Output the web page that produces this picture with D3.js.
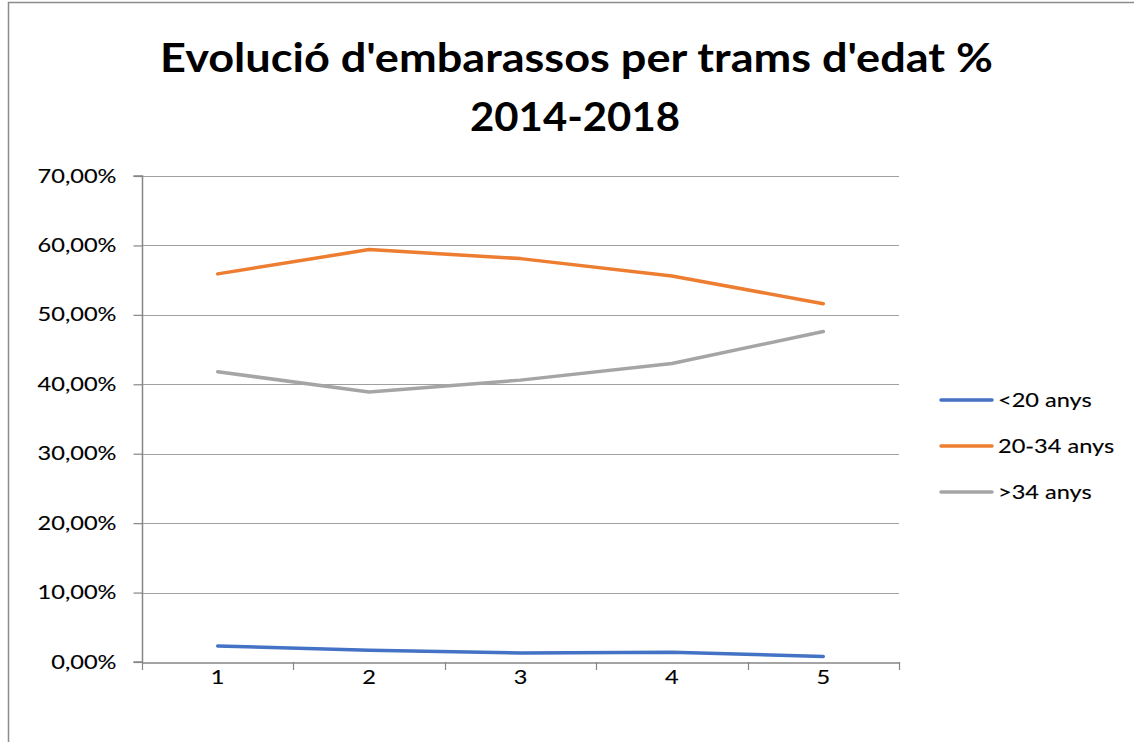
<!DOCTYPE html>
<html><head><meta charset="utf-8">
<script src="https://cdn.jsdelivr.net/npm/d3@7"></script>
<style>body{margin:0;background:#fff}svg{display:block}</style>
</head><body>
<svg id="c" width="1134" height="742"></svg>
<script>
const categories = ["1","2","3","4","5"];
const seriesNames = ["<20 anys","20-34 anys",">34 anys"];
const under20 = [0.023, 0.017, 0.013, 0.014, 0.008];
const age20to34 = [0.559, 0.594, 0.581, 0.556, 0.516];
const over34 = [0.418, 0.389, 0.406, 0.430, 0.476];
const yTicks = [0,0.1,0.2,0.3,0.4,0.5,0.6,0.7];
const colors = ["#4472C4","#ED7D31","#A5A5A5"];
const series = [under20, age20to34, over34];

const svg = d3.select("#c");
const font = "Lato, 'Open Sans', sans-serif";
const stretch = (sel, f) => sel.each(function(){
  const w = this.getComputedTextLength();
  d3.select(this).attr("textLength", w*f).attr("lengthAdjust","spacingAndGlyphs")
    .attr("stroke","#000").attr("stroke-width",0.12);
});
svg.append("rect").attr("x",8.5).attr("y",2.5).attr("width",1140).attr("height",760)
  .attr("fill","#fff").attr("stroke","#8c8c8c").attr("stroke-width",1.5);

const L=142,R=899,T=176,B=662;
const x = d3.scaleBand().domain(categories).range([L,R]);
const y = d3.scaleLinear().domain([0,0.7]).range([B,T]);

// gridlines
svg.append("g").selectAll("line").data(yTicks.slice(1)).join("line")
  .attr("x1",L).attr("x2",R).attr("y1",d=>Math.round(y(d))+0.5).attr("y2",d=>Math.round(y(d))+0.5)
  .attr("stroke","#a0a0a0").attr("stroke-width",1.2);

// y axis
const fmt = d => d3.format(".2f")(d*100).replace(".",",")+"%";
const ya = svg.append("g").attr("transform",`translate(${L+0.5},0)`)
  .call(d3.axisLeft(y).tickValues(yTicks).tickFormat(fmt).tickSize(9).tickPadding(17));
ya.select(".domain").attr("stroke","#868686").attr("stroke-width",1.5).attr("d",`M-9,${B}H0V${T}H-9`);
ya.selectAll(".tick line").attr("stroke","#868686").attr("stroke-width",1.2);
ya.selectAll("text").attr("font-family",font).attr("font-size",19).attr("fill","#000").call(stretch,1.24);

// x axis
const xa = svg.append("g").attr("transform",`translate(0,${B+0.5})`)
  .call(d3.axisBottom(x).tickSize(0).tickPadding(8));
xa.select(".domain").attr("stroke","#868686").attr("stroke-width",1.5);
xa.selectAll("text").attr("font-family",font).attr("font-size",19).attr("fill","#000").call(stretch,1.24);
const bounds = categories.map(c=>x(c)).concat([R]);
svg.append("g").selectAll("line").data(bounds).join("line")
  .attr("x1",d=>Math.round(d)+0.5).attr("x2",d=>Math.round(d)+0.5).attr("y1",B).attr("y2",B+8)
  .attr("stroke","#868686").attr("stroke-width",1.2);

// lines
const line = d3.line().x((d,i)=>x(categories[i])+x.bandwidth()/2).y(d=>y(d));
series.forEach((s,k)=>{
  svg.append("path").attr("d",line(s)).attr("fill","none").attr("stroke",colors[k])
    .attr("stroke-width",3.5).attr("stroke-linecap","round").attr("stroke-linejoin","round");
});

// legend
const ly=[400,446,492];
seriesNames.forEach((n,k)=>{
  svg.append("line").attr("x1",941).attr("x2",992).attr("y1",ly[k]).attr("y2",ly[k])
    .attr("stroke",colors[k]).attr("stroke-width",3.5).attr("stroke-linecap","round");
  svg.append("text").attr("x",998).attr("y",ly[k]+7).text(n)
    .attr("font-family",font).attr("font-size",19).attr("fill","#000").call(stretch,1.24);
});

// title
const t1 = svg.append("text").attr("x",576.5).attr("y",72).attr("text-anchor","middle")
  .attr("font-family",font).attr("font-weight","bold").attr("font-size",40).attr("fill","#000")
  .text("Evolució d'embarassos per trams d'edat %");
const t2 = svg.append("text").attr("x",575).attr("y",131).attr("text-anchor","middle")
  .attr("font-family",font).attr("font-weight","bold").attr("font-size",40).attr("fill","#000")
  .text("2014-2018");
t1.attr("textLength",833).attr("lengthAdjust","spacingAndGlyphs");
t2.attr("textLength",210).attr("lengthAdjust","spacingAndGlyphs");
</script>
</body></html>
